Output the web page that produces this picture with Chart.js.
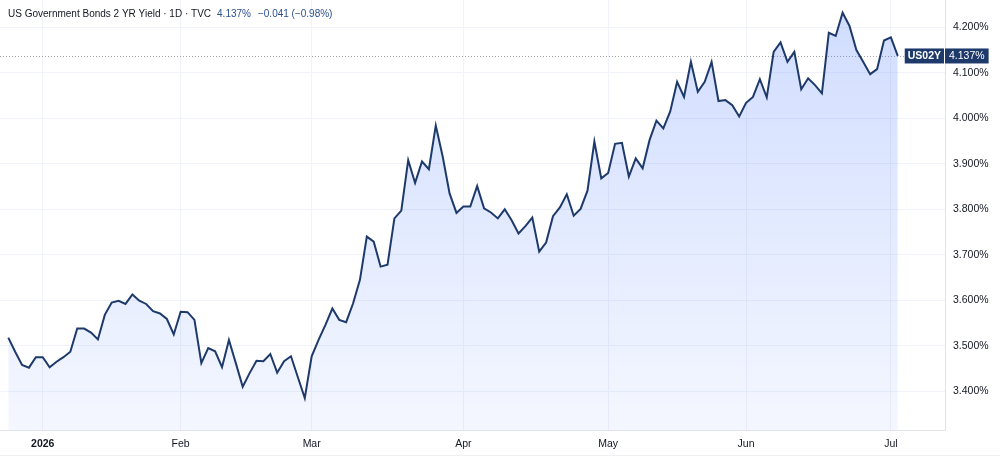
<!DOCTYPE html>
<html>
<head>
<meta charset="utf-8">
<script src="https://cdn.jsdelivr.net/npm/chart.js@4.4.1/dist/chart.umd.min.js"></script>
<style>
html,body{margin:0;padding:0;background:#ffffff;}
#wrap{position:relative;width:1000px;height:465px;}
</style>
</head>
<body>
<div id="wrap"><canvas id="c" width="1000" height="465"></canvas></div>
<script>
// ---- data ----
const seriesTitle = 'US Government Bonds 2 YR Yield \u00b7 1D \u00b7 TVC';
const symbol = 'US02Y';
const startDate = '2025-12-24';
const endDate = '2026-07-02';
const holidays = ['2025-12-25','2026-01-01','2026-01-19','2026-02-16','2026-04-03','2026-05-25','2026-06-19'];
const monthNames = ['Jan','Feb','Mar','Apr','May','Jun','Jul','Aug','Sep','Oct','Nov','Dec'];
const yTickValues = [3.4, 3.5, 3.6, 3.7, 3.8, 3.9, 4.0, 4.1, 4.2];
const yields = [
  3.518, 3.487, 3.458, 3.452, 3.475, 3.475, 3.453, 3.465, 3.475, 3.487,
  3.538, 3.538, 3.529, 3.514, 3.568, 3.595, 3.599, 3.592, 3.613, 3.599,
  3.592, 3.576, 3.571, 3.559, 3.525, 3.575, 3.574, 3.557, 3.462, 3.495,
  3.488, 3.453, 3.513, 3.462, 3.410, 3.440, 3.467, 3.466, 3.482, 3.441,
  3.466, 3.477, 3.431, 3.385, 3.477, 3.513, 3.546, 3.582, 3.557, 3.552,
  3.593, 3.645, 3.740, 3.729, 3.674, 3.678, 3.780, 3.797, 3.908, 3.858,
  3.905, 3.888, 3.984, 3.916, 3.835, 3.792, 3.806, 3.806, 3.851, 3.802,
  3.793, 3.780, 3.800, 3.776, 3.747, 3.763, 3.782, 3.707, 3.727, 3.785,
  3.804, 3.833, 3.786, 3.801, 3.841, 3.949, 3.868, 3.880, 3.944, 3.946,
  3.872, 3.912, 3.890, 3.952, 3.995, 3.978, 4.015, 4.080, 4.047, 4.124,
  4.058, 4.080, 4.124, 4.038, 4.040, 4.029, 4.004, 4.034, 4.047, 4.086,
  4.046, 4.146, 4.167, 4.124, 4.146, 4.064, 4.088, 4.073, 4.055, 4.188,
  4.181, 4.232, 4.203, 4.150, 4.124, 4.097, 4.108, 4.171, 4.178, 4.137
];

// ---- trading-day calendar ----
function buildDates() {
  const out = [];
  const d = new Date(startDate + 'T00:00:00Z');
  const end = new Date(endDate + 'T00:00:00Z');
  while (d <= end) {
    const dow = d.getUTCDay();
    const iso = d.toISOString().slice(0, 10);
    if (dow !== 0 && dow !== 6 && holidays.indexOf(iso) < 0) out.push(iso);
    d.setUTCDate(d.getUTCDate() + 1);
  }
  return out;
}
const dates = buildDates();
const monthStarts = [];
dates.forEach((iso, i) => {
  if (i === 0) return;
  if (iso.slice(5, 7) !== dates[i - 1].slice(5, 7)) monthStarts.push(i);
});
function monthLabel(i) {
  const iso = dates[i];
  const m = parseInt(iso.slice(5, 7), 10) - 1;
  return m === 0 ? iso.slice(0, 4) : monthNames[m];
}

const FONT = "'Liberation Sans', Arial, sans-serif";
const lineColor = '#1e3a6b';
const last = yields[yields.length - 1];
const prev = yields[yields.length - 2];
const chg = last - prev;
const pct = chg / prev * 100;
const fmtSigned = (v, d) => (v < 0 ? '\u2212' : '+') + Math.abs(v).toFixed(d);

function zeroPad(s) { s.paddingTop = 0; s.paddingBottom = 0; s.paddingLeft = 0; s.paddingRight = 0; }

const overlay = {
  id: 'overlay',
  beforeDatasetsDraw(chart) {
    const { ctx, chartArea, scales } = chart;
    const y = Math.round(scales.y.getPixelForValue(last)) + 0.5;
    ctx.save();
    ctx.strokeStyle = '#a3a6af';
    ctx.lineWidth = 1;
    ctx.setLineDash([1, 2]);
    ctx.beginPath();
    ctx.moveTo(chartArea.left, y);
    ctx.lineTo(chartArea.right, y);
    ctx.stroke();
    ctx.restore();
  },
  afterDraw(chart) {
    const { ctx, chartArea, scales } = chart;
    const y = scales.y.getPixelForValue(last);
    ctx.save();
    ctx.textBaseline = 'middle';
    ctx.textAlign = 'left';
    // symbol label on the plot edge
    ctx.font = 'bold 10.5px ' + FONT;
    const sw = ctx.measureText(symbol).width + 6;
    ctx.fillStyle = lineColor;
    ctx.fillRect(chartArea.right - sw - 1, y - 7.5, sw, 15);
    ctx.fillStyle = '#ffffff';
    ctx.fillText(symbol, chartArea.right - sw + 2, y + 0.5);
    // price label on the axis
    ctx.font = '10.5px ' + FONT;
    const pTxt = last.toFixed(3) + '%';
    const pw = ctx.measureText(pTxt).width + 8;
    ctx.fillStyle = lineColor;
    ctx.fillRect(chartArea.right, y - 7.5, pw, 15);
    ctx.fillStyle = '#ffffff';
    ctx.fillText(pTxt, chartArea.right + 4, y + 0.5);
    // title line
    ctx.font = '10px ' + FONT;
    let x = 8;
    const ty = 14;
    ctx.fillStyle = '#131722';
    ctx.fillText(seriesTitle, x, ty);
    x += ctx.measureText(seriesTitle).width + 6;
    ctx.fillStyle = '#2b4f8f';
    const v1 = last.toFixed(3) + '%';
    ctx.fillText(v1, x, ty);
    x += ctx.measureText(v1).width + 7;
    const v2 = fmtSigned(chg, 3) + ' (' + fmtSigned(pct, 2) + '%)';
    ctx.fillText(v2, x, ty);
    // bottom rule
    ctx.strokeStyle = '#eef0f4';
    ctx.lineWidth = 1;
    ctx.beginPath();
    ctx.moveTo(0, chart.height - 9.5);
    ctx.lineTo(chart.width, chart.height - 9.5);
    ctx.stroke();
    ctx.restore();
  }
};

new Chart(document.getElementById('c'), {
  type: 'line',
  data: {
    datasets: [{
      data: yields.map((v, i) => ({ x: i, y: v })),
      borderColor: lineColor,
      borderWidth: 2,
      pointRadius: 0,
      tension: 0,
      fill: 'start',
      backgroundColor: (context) => {
        const { chart } = context;
        const { ctx, chartArea } = chart;
        if (!chartArea) return 'rgba(41,98,255,0.1)';
        const g = ctx.createLinearGradient(0, chartArea.top, 0, chartArea.bottom);
        g.addColorStop(0, 'rgba(41,98,255,0.22)');
        g.addColorStop(1, 'rgba(41,98,255,0.05)');
        return g;
      }
    }]
  },
  options: {
    responsive: false,
    animation: false,
    layout: { padding: { left: 0, right: 0, top: 0, bottom: 10 } },
    plugins: { legend: { display: false }, tooltip: { enabled: false } },
    scales: {
      x: {
        type: 'linear',
        min: -1.2,
        max: 135.85,
        afterBuildTicks: (s) => { s.ticks = monthStarts.map(i => ({ value: i })); },
        afterFit: (s) => { s.height = 25; zeroPad(s); },
        grid: { color: '#f0f3fa', drawTicks: false },
        border: { color: '#e0e3eb' },
        ticks: {
          autoSkip: false,
          maxRotation: 0,
          padding: 8,
          color: '#131722',
          font: (ctx) => ({ family: FONT, size: 10.5, weight: (ctx.tick && monthLabel(ctx.tick.value).length === 4) ? 'bold' : 'normal' }),
          callback: (v) => monthLabel(v)
        }
      },
      y: {
        position: 'right',
        min: 3.315,
        max: 4.26,
        afterBuildTicks: (s) => { s.ticks = yTickValues.map(v => ({ value: v })); },
        afterFit: (s) => { s.width = 55; zeroPad(s); },
        grid: { color: '#f0f3fa', drawTicks: false },
        border: { color: '#e0e3eb' },
        ticks: {
          padding: 8,
          crossAlign: 'near',
          color: '#131722',
          font: { family: FONT, size: 10.5 },
          callback: (v) => v.toFixed(3) + '%'
        }
      }
    }
  },
  plugins: [overlay]
});
</script>
</body>
</html>
